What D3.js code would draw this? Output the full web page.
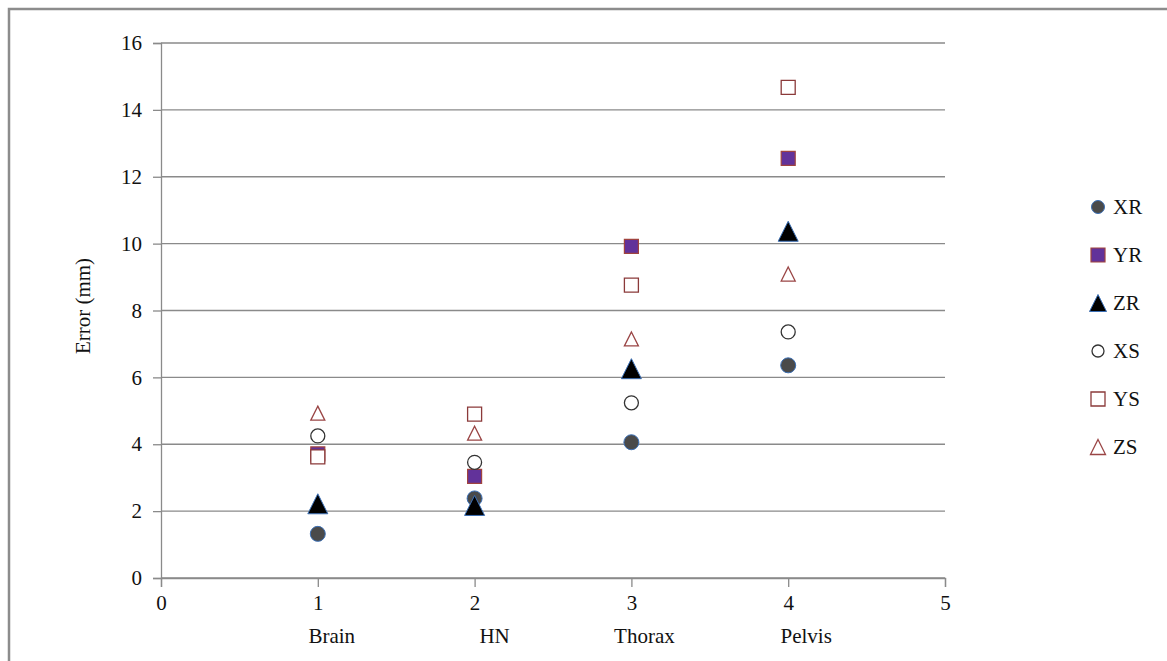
<!DOCTYPE html>
<html><head><meta charset="utf-8">
<script src="https://cdn.jsdelivr.net/npm/d3@7"></script>
<style>
html,body{margin:0;padding:0;background:#fff;}
svg{display:block;}
svg text{font-family:"Liberation Serif","Times New Roman","DejaVu Serif",serif !important;fill:#111;}
</style></head>
<body><svg id="c" width="1167" height="661"></svg>
<script>
const categories = ["Brain","HN","Thorax","Pelvis"];
const categoryX = [1,2,3,4];
const seriesNames = ["XR","YR","ZR","XS","YS","ZS"];
const XR = [1.32, 2.38, 4.06, 6.36];
const YR = [3.71, 3.04, 9.92, 12.55];
const ZR = [2.22, 2.17, 6.26, 10.37];
const XS = [4.25, 3.46, 5.24, 7.36];
const YS = [3.62, 4.90, 8.76, 14.67];
const ZS = [4.93, 4.33, 7.15, 9.09];
const yTicks = [0,2,4,6,8,10,12,14,16];
const xTicks = [0,1,2,3,4,5];

const seriesData = [XR,YR,ZR,XS,YS,ZS];
const FONT = '"Liberation Serif","Times New Roman","DejaVu Serif",serif';
const styles = {
  XR:{shape:"circle", size:15, fill:"#4a4a4a", stroke:"#3b6fb5", sw:1, lsize:13},
  YR:{shape:"square", size:14, fill:"#62329a", stroke:"#a0433f", sw:1.2, lsize:14},
  ZR:{shape:"triangle", size:20, fill:"#000", stroke:"#3b6fb5", sw:1, lsize:17},
  XS:{shape:"circle", size:14, fill:"#fff", stroke:"#333", sw:1.3, lsize:12},
  YS:{shape:"square", size:14, fill:"#fff", stroke:"#8b3a3a", sw:1.3, lsize:14},
  ZS:{shape:"triangle", size:14, fill:"#fff", stroke:"#9a4545", sw:1.3, lsize:15}
};

const svg = d3.select("#c");
svg.append("rect").attr("x",9).attr("y",9).attr("width",1300).attr("height",800)
  .attr("fill","none").attr("stroke","#8c8c8c").attr("stroke-width",2.5);

const x = d3.scaleLinear().domain([0,5]).range([161,945]);
const y = d3.scaleLinear().domain([0,16]).range([578,43]);

svg.append("g").selectAll("line").data(yTicks).join("line")
  .attr("x1",x(0)).attr("x2",x(5)).attr("y1",d=>y(d)).attr("y2",d=>y(d))
  .attr("stroke","#8a8a8a").attr("stroke-width",1.3);

const yAxis = svg.append("g").attr("transform",`translate(${x(0)},0)`)
  .call(d3.axisLeft(y).tickValues(yTicks).tickSize(8).tickPadding(11).tickFormat(d3.format("d")));
yAxis.attr("font-family",FONT).attr("font-size",21);
yAxis.select(".domain").attr("stroke","#8a8a8a").attr("stroke-width",1.3);
yAxis.selectAll(".tick line").attr("stroke","#8a8a8a").attr("stroke-width",1.3);
yAxis.selectAll("text").attr("fill","#111");

const xAxis = svg.append("g").attr("transform",`translate(0,${y(0)})`)
  .call(d3.axisBottom(x).tickValues(xTicks).tickSize(9).tickPadding(8).tickFormat(d3.format("d")));
xAxis.attr("font-family",FONT).attr("font-size",21);
xAxis.select(".domain").attr("stroke","#8a8a8a").attr("stroke-width",1.3);
xAxis.selectAll(".tick line").attr("stroke","#8a8a8a").attr("stroke-width",1.3);
xAxis.selectAll("text").attr("fill","#111");

const catOffset = [14, 20, 13, 18];
svg.append("g").attr("font-family",FONT).attr("font-size",21)
  .selectAll("text").data(categories).join("text")
  .attr("x",(d,i)=>x(categoryX[i])+catOffset[i]).attr("y",643)
  .attr("text-anchor","middle").text(d=>d);

svg.append("text").attr("transform","translate(90,306) rotate(-90)")
  .attr("font-family",FONT).attr("font-size",21)
  .attr("text-anchor","middle").text("Error (mm)");

function shapePath(shape, s){
  const h = s/2;
  if(shape==="circle"){
    return `M${h},0A${h},${h} 0 1,1 ${-h},0A${h},${h} 0 1,1 ${h},0Z`;
  } else if(shape==="square"){
    return `M${-h},${-h}H${h}V${h}H${-h}Z`;
  } else {
    return `M0,${-h}L${h},${h}L${-h},${h}Z`;
  }
}

seriesNames.forEach((name,si)=>{
  const st = styles[name];
  svg.append("g").selectAll("path").data(seriesData[si]).join("path")
    .attr("transform",(d,i)=>`translate(${x(categoryX[i])},${y(d)})`)
    .attr("d",shapePath(st.shape, st.size))
    .attr("fill",st.fill).attr("stroke",st.stroke).attr("stroke-width",st.sw);
});

const legY = d3.scaleLinear().domain([0,5]).range([207,447]);
const leg = svg.append("g").attr("font-family",FONT).attr("font-size",21);
seriesNames.forEach((name,i)=>{
  const st = styles[name];
  leg.append("path").attr("transform",`translate(1098,${legY(i)})`)
    .attr("d",shapePath(st.shape, st.lsize))
    .attr("fill",st.fill).attr("stroke",st.stroke).attr("stroke-width",st.sw);
  leg.append("text").attr("x",1113).attr("y",legY(i)+7).text(name);
});
</script></body></html>
